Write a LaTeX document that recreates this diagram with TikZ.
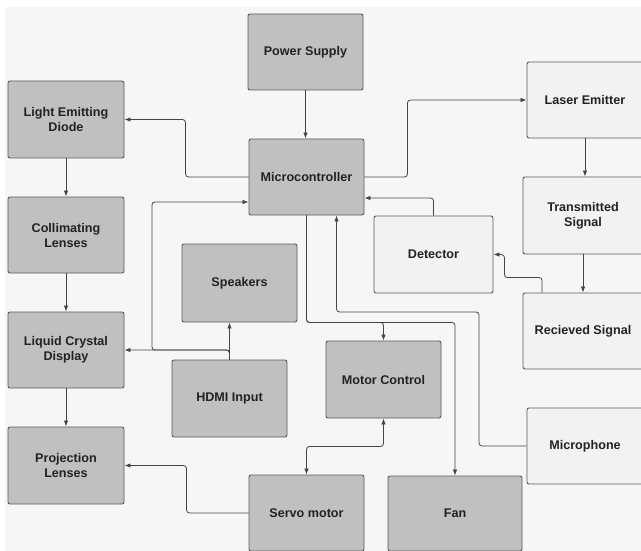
\documentclass[tikz,border=0pt]{standalone}
\usepackage{fontspec}
\setmainfont{Liberation Sans}
\usetikzlibrary{arrows.meta}

\definecolor{bg}{HTML}{F6F6F6}
\definecolor{boxdark}{HTML}{C0C0C0}
\definecolor{boxlite}{HTML}{F2F2F2}
\definecolor{edge}{HTML}{5A5A5A}
\definecolor{wirec}{HTML}{444444}
\definecolor{txt}{HTML}{222222}

\begin{document}
\begin{tikzpicture}[x=1pt,y=-1pt,>={Latex[length=6pt,width=4.5pt]},
  blk/.style={draw=edge,line width=0.9pt,rounded corners=2pt,fill=boxdark,
    minimum width=115pt,minimum height=76pt,inner sep=0pt,align=center,
    text=txt,font=\bfseries\fontsize{12.6}{15}\selectfont},
  lite/.style={blk,fill=boxlite},
  wire/.style={->,draw=wirec,line width=0.8pt,rounded corners=3pt}]

\useasboundingbox (0,0) rectangle (641,551);
\clip (0,0) rectangle (641,551);
\fill[color=bg] (5,7) rectangle (641,551);

\node[blk] (pow) at (305.5,52) {Power Supply};
\node[blk] (mcu) at (306.5,177) {Microcontroller};
\node[blk,minimum width=116pt,minimum height=77pt] (led) at (66,119.5) {Light Emitting\\Diode};
\node[blk,minimum width=116pt] (col) at (66,235) {Collimating\\Lenses};
\node[blk,minimum width=116pt] (lcd) at (66,350) {Liquid Crystal\\Display};
\node[blk,minimum width=116pt,minimum height=77pt] (proj) at (66,465.5) {Projection\\Lenses};
\node[blk,minimum height=78pt] (spk) at (239.5,283) {Speakers};
\node[blk,minimum height=77pt] (hdmi) at (229.5,398.5) {HDMI Input};
\node[blk,minimum height=77pt] (motor) at (383.5,379.5) {Motor Control};
\node[blk] (servo) at (306.5,513) {Servo motor};
\node[blk,minimum width=134pt,minimum height=75pt] (fan) at (455,513.5) {Fan};

\node[lite,minimum width=116pt] (laser) at (585,100) {Laser Emitter};
\node[lite,minimum width=120pt,minimum height=77pt] (trans) at (583,215.5) {Transmitted\\Signal};
\node[lite,minimum width=119pt,minimum height=77pt] (det) at (433.5,254.5) {Detector};
\node[lite,minimum width=120pt] (recv) at (583,331) {Recieved Signal};
\node[lite,minimum width=116pt] (mic) at (585,446) {Microphone};

\coordinate (jn) at (152,350);
\coordinate (mb) at (479,312);

\draw[wire] (pow.south) -- (pow.south |- mcu.north);
\draw[wire] (mcu.west) -- ++(-63,0) |- (led.east);
\draw[wire] (mcu.east) -- ++(43,0) |- (laser.west);
\draw[wire] (led) -- (col);
\draw[wire] (col) -- (lcd);
\draw[wire] (lcd) -- (proj);
\draw[wire] (hdmi.north) -- (hdmi.north |- spk.south);
\draw[wire] (hdmi.north) |- (lcd.east);
\draw[wire] (hdmi.north) |- (jn) |- ([yshift=-25pt]mcu.west);
\draw[wire] (mcu.south) -- ++(0,107) -| (motor.north);
\draw[wire] (mcu.south) -- ++(0,107) -| (fan.north);
\draw[wire] (mic.west) -| (mb) -| ([xshift=30pt]mcu.south);
\draw[wire] (det.north) |- ([yshift=-21pt]mcu.east);
\draw[wire] ([xshift=-41pt]recv.north) -- ++(0,-15) -| ([xshift=11pt]det.east) -- (det.east);
\draw[wire] (laser.south) -- (laser.south |- trans.north);
\draw[wire] (trans) -- (recv);
\draw[wire,<->] (motor.south) -- ++(0,28) -| (servo.north);
\draw[wire] (servo.west) -- ++(-62,0) |- (proj.east);

\end{tikzpicture}
\end{document}
